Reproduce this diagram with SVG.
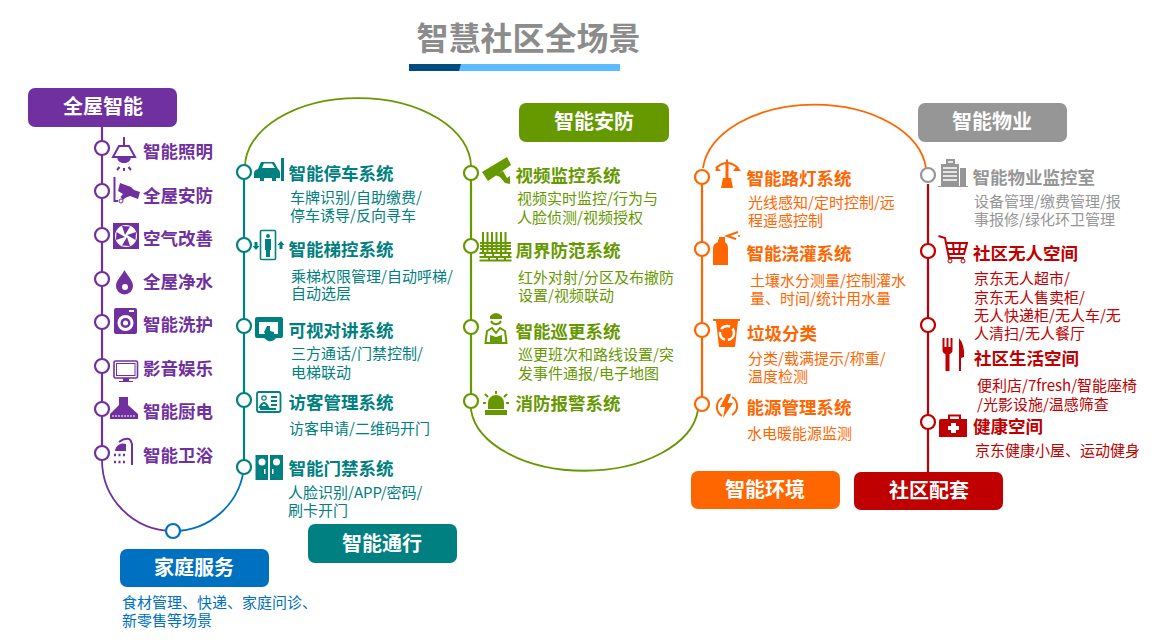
<svg xmlns="http://www.w3.org/2000/svg" width="1176" height="643" viewBox="0 0 1176 643">
<style>
text{font-family:"Noto Sans CJK SC","Noto Sans",sans-serif}
.t{font-size:17.5px;font-weight:700}
.d{font-size:15px}
.b{font-size:20px;font-weight:700;fill:#fff;text-anchor:middle}
.purple{fill:#7030a0}.teal{fill:#008080}.green{fill:#669900}.orange{fill:#ff6600}.gray{fill:#969696}.red{fill:#c00000}.blue{fill:#0070c0}
circle.n{fill:#fff;stroke-width:2.2}
.sp{stroke:#7030a0}.st{stroke:#008080}.sg{stroke:#669900}.so{stroke:#ff6600}.sa{stroke:#969696}.sr{stroke:#c00000}.sb{stroke:#0070c0}
#connectors path{fill:none;stroke-width:2.2}
#connectors path.thin{stroke-width:1.8}
.l{fill:none;stroke-width:2}
</style>
<rect width="1176" height="643" fill="#fff"/>
<g id="title">
<text x="528.500" y="50" font-size="32" font-weight="700" fill="#8c8c8c" text-anchor="middle">智慧社区全场景</text>
<rect x="409" y="64" width="211" height="7" fill="#5cbcff"/>
<path d="M409 64H461L459 71H409Z" fill="#004b80"/>
</g>
<g id="connectors">
<path class="sp" d="M102 127V453"/>
<path class="sp thin" d="M102 453V460A71 71 0 0 0 173 531"/>
<path class="sb thin" d="M173 531A71 71 0 0 0 244 467"/>
<path class="st" d="M244 172V467"/>
<path class="sg thin" d="M245 167A113 69 0 0 1 471 167"/>
<path class="sg" d="M471 167V401"/>
<path class="sg thin" d="M471 401V410A114 67 0 0 0 698 410"/>
<path class="so" d="M702 404V177"/>
<path class="so thin" d="M703 168A112 70 0 0 1 926 168"/>
<path class="sr" d="M928 184V472"/>
</g>

<g id="badge-home"><rect x="28" y="88" width="149" height="39" rx="7" class="purple"/><text class="b" x="103" y="114">全屋智能</text></g>
<g id="badge-family"><rect x="120" y="549" width="149" height="38" rx="7" class="blue"/><text class="b" x="194" y="575">家庭服务</text>
<text class="d blue"><tspan x="122" y="608">食材管理、快递、家庭问诊、</tspan><tspan x="122" y="626">新零售等场景</tspan></text></g>
<g id="badge-access"><rect x="308" y="524" width="149" height="39" rx="7" class="teal"/><text class="b" x="382" y="551">智能通行</text></g>
<g id="badge-security"><rect x="519" y="103" width="150" height="39" rx="7" class="green"/><text class="b" x="594" y="129">智能安防</text></g>
<g id="badge-env"><rect x="691" y="471" width="149" height="38" rx="7" class="orange"/><text class="b" x="765" y="497">智能环境</text></g>
<g id="badge-support"><rect x="854" y="472" width="149" height="38" rx="7" class="red"/><text class="b" x="929" y="498">社区配套</text></g>
<g id="badge-property"><rect x="918" y="103" width="149" height="39" rx="7" class="gray"/><text class="b" x="992" y="129">智能物业</text></g>

<g id="home-light"><circle class="n sp" cx="102" cy="148" r="7"/>
<path class="l sp" stroke-width="2.200" d="M124 137V146M119 146H129L135 157H113ZM118 158A6.500 6.500 0 0 0 130 158"/><path class="purple" d="M119 158H129A5 5 0 0 1 119 158Z"/><path class="l sp" stroke-width="2.200" d="M117 170L119.500 167M124 171V168M131 170L128.500 167"/><text class="t purple" x="143" y="158">智能照明</text></g>
<g id="home-security"><circle class="n sp" cx="102" cy="191" r="7"/>
<path class="purple" d="M120 183L131 187L134 190L140 192L138 199L130 196L125 198L123 200L120.500 197L123 194L118 191Z"/><path class="l sp" stroke-width="1.400" d="M114.500 177V201H118"/><circle cx="121" cy="201" r="2" fill="none" class="sp"/><text class="t purple" x="143" y="202">全屋安防</text></g>
<g id="home-air"><circle class="n sp" cx="102" cy="235" r="7"/>
<rect x="113" y="223" width="26" height="26" class="purple"/><circle cx="126" cy="236" r="11" fill="#fff"/><path class="purple" d="M125 235L122 226L130 226.500ZM127 235L136 232L135.500 240ZM127 237L130 246L122 245.500ZM125 237L116 240L116.500 232Z"/><text class="t purple" x="143" y="245">空气改善</text></g>
<g id="home-water"><circle class="n sp" cx="102" cy="279" r="7"/>
<path class="purple" d="M124.500 270C128 277 133 280 133 286A8.500 8.500 0 0 1 116 286C116 280 121 277 124.500 270Z"/><circle cx="125" cy="287" r="3" fill="#fff"/><text class="t purple" x="143" y="288">全屋净水</text></g>
<g id="home-wash"><circle class="n sp" cx="102" cy="322" r="7"/>
<rect x="114" y="308" width="23" height="26" rx="2" class="purple"/><circle cx="125.500" cy="323" r="8" fill="#fff"/><circle cx="125.500" cy="323" r="5" class="purple"/><circle cx="125.500" cy="323" r="2.500" fill="#fff"/><rect x="129" y="310" width="5" height="2" fill="#fff"/><text class="t purple" x="143" y="331">智能洗护</text></g>
<g id="home-tv"><circle class="n sp" cx="102" cy="366" r="7"/>
<rect x="114" y="361" width="23.500" height="17" rx="1.500" fill="none" stroke-width="1.600" class="sp"/><rect x="116.500" y="363.500" width="18.500" height="12" fill="none" stroke-width="1" class="sp"/><path class="purple" d="M123 378H129V381H133V382H119V381H123Z"/><text class="t purple" x="143" y="375">影音娱乐</text></g>
<g id="home-kitchen"><circle class="n sp" cx="102" cy="409" r="7"/>
<path class="purple" d="M119 397H128V405L138 414V419H110V414L119 405Z"/><path d="M112 416H136" stroke="#fff" stroke-width="1" stroke-dasharray="2 1"/><text class="t purple" x="143" y="418">智能厨电</text></g>
<g id="home-bath"><circle class="n sp" cx="102" cy="453" r="7"/>
<path class="purple" d="M115 451A8 8 0 0 1 126 444V451Z"/><path class="l sp" d="M119 442Q124 438 129 439Q132 441 132 446V465"/><path class="sp" stroke-width="2.500" stroke-dasharray="2 2.500" d="M114 455H127M114 462H127"/><text class="t purple" x="143" y="462">智能卫浴</text></g>

<g id="family-node"><circle class="n sb" cx="173" cy="531" r="7"/></g>

<g id="access-parking"><circle class="n st" cx="244" cy="172" r="7"/>
<path class="teal" d="M258 169L261 162H274L278 169Q280 170 280 173V178H276V181H272V178H264V181H260V178H254V173Q254 170 258 169Z"/><path d="M262 168L264 163.500H272L275 168Z" fill="#fff"/><rect x="281" y="158" width="3" height="23" class="teal"/><text class="t teal" x="288.500" y="180">智能停车系统</text>
<text class="d teal"><tspan x="290" y="203">车牌识别/自助缴费/</tspan><tspan x="290" y="221">停车诱导/反向寻车</tspan></text></g>
<g id="access-lift"><circle class="n st" cx="244" cy="245" r="7"/>
<rect x="260.500" y="230.500" width="15" height="29" rx="1" fill="none" stroke-width="1.600" class="st"/><circle cx="268" cy="236" r="2" class="teal"/><path class="teal" d="M265 239H271V250H270V257H266V250H265Z"/><path class="teal" d="M281 241L284.500 245H282.500V249H279.500V245H277.500ZM256 250L252.500 246H254.500V242H257.500V246H259.500Z"/><text class="t teal" x="288.500" y="255.500">智能梯控系统</text>
<text class="d teal"><tspan x="291" y="282">乘梯权限管理/自动呼梯/</tspan><tspan x="291" y="299">自动选层</tspan></text></g>
<g id="access-intercom"><circle class="n st" cx="244" cy="326" r="7"/>
<path class="teal" d="M257 317H281Q283 317 283 319V336Q283 338 281 338H276Q273 342 268 341L264 338H257Q255 338 255 336V319Q255 317 257 317Z"/><rect x="259" y="322" width="19" height="12" fill="#fff"/><path class="teal" d="M267 326H270V331L274 332V337H267L264 332Z"/><text class="t teal" x="288.500" y="336.500">可视对讲系统</text>
<text class="d teal"><tspan x="291" y="359">三方通话/门禁控制/</tspan><tspan x="291" y="378">电梯联动</tspan></text></g>
<g id="access-visitor"><circle class="n st" cx="244" cy="400" r="7"/>
<rect x="257" y="392" width="23.500" height="20" rx="2" fill="none" stroke-width="1.800" class="st"/><circle cx="264" cy="398" r="2.200" fill="none" stroke-width="1.200" class="st"/><path class="l st" stroke-width="1.200" d="M260 407Q264 399 268 407ZM260 409H276M271 397H277M271 401H277M271 405H277"/><text class="t teal" x="288.500" y="408.500">访客管理系统</text>
<text class="d teal" x="289" y="434">访客申请/二维码开门</text></g>
<g id="access-door"><circle class="n st" cx="244" cy="467" r="7"/>
<rect x="255.500" y="455" width="12.500" height="25" class="teal"/><rect x="270" y="455" width="13" height="25" class="teal"/><circle cx="262" cy="462" r="3.500" fill="#fff"/><circle cx="276.500" cy="462" r="3.500" fill="#fff"/><rect x="264" y="469" width="1.500" height="5" fill="#fff"/><rect x="272" y="469" width="1.500" height="5" fill="#fff"/><text class="t teal" x="288.500" y="474.500">智能门禁系统</text>
<text class="d teal"><tspan x="288" y="498">人脸识别/APP/密码/</tspan><tspan x="288" y="516">刷卡开门</tspan></text></g>

<g id="sec-video"><circle class="n sg" cx="471" cy="173" r="7"/>
<path class="green" d="M482 172L507 157L511 165L488 181Z"/><path class="green" d="M495 175L503 171L507 178L510 176V184L505 183L500 177Z"/><text class="t green" x="515.500" y="181.500">视频监控系统</text>
<text class="d green"><tspan x="517" y="204">视频实时监控/行为与</tspan><tspan x="517" y="223">人脸侦测/视频授权</tspan></text></g>
<g id="sec-fence"><circle class="n sg" cx="471" cy="246" r="7"/>
<path class="l sg" stroke-width="1" d="M483 232V252M487.500 232V252M492 232V252M496.500 232V252M501 232V252M505.500 232V252M480 243H511M480 246H511M480 249H511M479.500 253H511.500M479.500 257H511.500M479.500 260.500H511.500M485 253V257M493 253V257M501 253V257M509 253V257M489 257V260M497 257V260M505 257V260"/><text class="t green" x="515.500" y="256.500">周界防范系统</text>
<text class="d green"><tspan x="518" y="283">红外对射/分区及布撤防</tspan><tspan x="518" y="301">设置/视频联动</tspan></text></g>
<g id="sec-patrol"><circle class="n sg" cx="471" cy="327" r="7"/>
<path class="green" d="M490 316Q496 310 502 316V319H490Z"/><path class="l sg" d="M491 321A5.500 5.500 0 0 0 501 321M492 328L487 331L485.500 343H506.500L505 331L500 328L496 333Z"/><path class="green" d="M490 335L496 337L502 335V342H490Z"/><text class="t green" x="515.500" y="337.500">智能巡更系统</text>
<text class="d green"><tspan x="518" y="360">巡更班次和路线设置/突</tspan><tspan x="518" y="379">发事件通报/电子地图</tspan></text></g>
<g id="sec-fire"><circle class="n sg" cx="471" cy="401" r="7"/>
<path class="green" d="M488 409V403A8 8 0 0 1 504 403V409ZM485 410H507V415H485Z"/><path class="l sg" stroke-width="1.500" d="M496 391V394M485 394L488 397M507 394L504 397M483 403H486M506 403H509"/><text class="t green" x="515.500" y="409.500">消防报警系统</text></g>

<g id="env-light"><circle class="n so" cx="702" cy="177" r="7"/>
<path class="orange" d="M725.500 162H728.500V178H731L733 188H721L723 178H725.500Z"/><path class="l so" stroke-width="1.500" d="M716 168Q727 158 738 168M727 159.500V162"/><path class="orange" d="M716 166L721 171H715.500ZM737 166L741 171H733Z"/><text class="t orange" x="746.500" y="184.500">智能路灯系统</text>
<text class="d orange"><tspan x="748" y="208">光线感知/定时控制/远</tspan><tspan x="748" y="226">程遥感控制</tspan></text></g>
<g id="env-spray"><circle class="n so" cx="702" cy="249" r="7"/>
<path class="orange" d="M719 237H725V242Q728 244 728 248V265H713V248Q713 244 718 242V239L719 240Z"/><path class="l so" stroke-width="1.500" d="M738 232L727 236L736 239"/><circle cx="739" cy="236" r="1" class="orange"/><text class="t orange" x="746.500" y="259.500">智能浇灌系统</text>
<text class="d orange"><tspan x="750" y="286">土壤水分测量/控制灌水</tspan><tspan x="750" y="304">量、时间/统计用水量</tspan></text></g>
<g id="env-bin"><circle class="n so" cx="702" cy="330" r="7"/>
<path class="orange" d="M713 319H740V321H738L735 347H719L716 321H713Z"/><circle cx="727" cy="333" r="7" fill="none" stroke="#fff" stroke-width="2.500" stroke-dasharray="10 3"/><text class="t orange" x="747" y="339.500">垃圾分类</text>
<text class="d orange"><tspan x="748" y="364">分类/载满提示/称重/</tspan><tspan x="748" y="382">温度检测</tspan></text></g>
<g id="env-energy"><circle class="n so" cx="702" cy="404" r="7"/>
<path class="orange" d="M727 394L720 407H725L723 418L733 403H727.500L731 394Z"/><path class="l so" stroke-width="3" d="M722 398A10.500 10.500 0 0 0 722 416M732 397A10.500 10.500 0 0 1 732 415"/><text class="t orange" x="746.500" y="413.500">能源管理系统</text>
<text class="d orange" x="747" y="439">水电暖能源监测</text></g>

<g id="prop-monitor"><circle class="n sa" cx="928" cy="175" r="7"/>
<path class="gray" d="M941 164H946V159H955V164H959V186H941ZM960 168H966V186H960ZM938 186H968V187H938Z"/><path d="M943 168H957M943 172H957M943 176H957M943 180H957M948 162H953" stroke="#fff" stroke-width="1.500"/><text class="t gray" x="972.500" y="183.500">智能物业监控室</text>
<text class="d gray"><tspan x="974" y="207">设备管理/缴费管理/报</tspan><tspan x="974" y="225">事报修/绿化环卫管理</tspan></text></g>
<g id="sup-unmanned"><circle class="n sr" cx="928" cy="251" r="7"/>
<path class="l sr" stroke-width="1.600" d="M938.500 236L945 238L949 258H964M946 243H967L964 254H948M953 243L954 254M960 243L959 254M947 249H965"/><circle cx="950" cy="261" r="2" fill="none" class="sr"/><circle cx="963" cy="261" r="2" fill="none" class="sr"/><text class="t red" x="973" y="259.500">社区无人空间</text>
<text class="d red"><tspan x="974" y="284">京东无人超市/</tspan><tspan x="974" y="303">京东无人售卖柜/</tspan><tspan x="974" y="321">无人快递柜/无人车/无</tspan><tspan x="974" y="339">人清扫/无人餐厅</tspan></text></g>
<g id="sup-life"><circle class="n sr" cx="928" cy="325" r="7"/>
<path class="red" d="M942.500 338H944.500V347H946.500V338H948.500V347H950.500V338H952.500V350Q952.500 353 949.500 354V371H945.500V354Q942.500 353 942.500 350ZM959 338Q965 345 964 357L961 358V371H959Z"/><text class="t red" x="974" y="364.500">社区生活空间</text>
<text class="d red"><tspan x="977" y="391">便利店/7fresh/智能座椅</tspan><tspan x="977" y="410">/光影设施/温感筛查</tspan></text></g>
<g id="sup-health"><circle class="n sr" cx="928" cy="422" r="7"/>
<path class="red" d="M941 419H948V414.500H961V419H967V437H939V421Q939 419 941 419ZM950 419H959V416.500H950Z"/><path d="M951 423H956V426H959V430H956V433H951V430H948V426H951Z" fill="#fff"/><text class="t red" x="973" y="432.500">健康空间</text>
<text class="d red" x="975" y="456">京东健康小屋、运动健身</text></g>
</svg>
